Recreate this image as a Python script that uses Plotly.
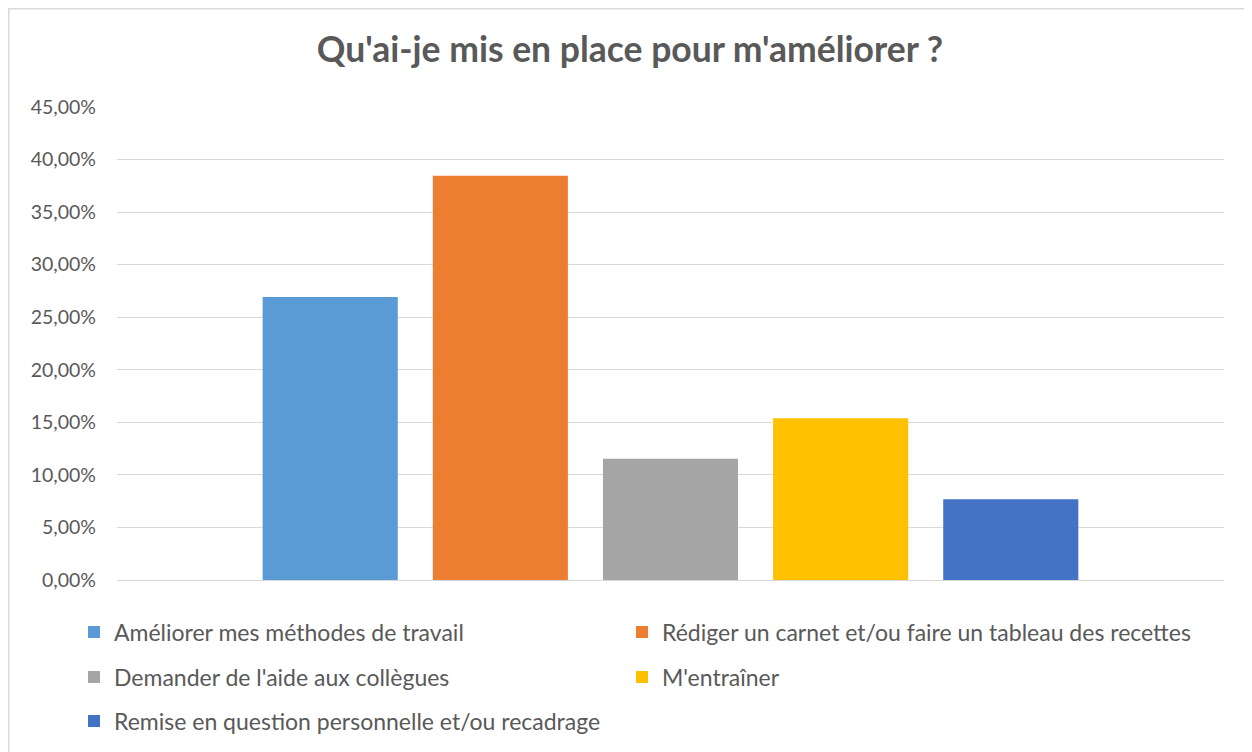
import plotly.graph_objects as go

title = "Qu'ai-je mis en place pour m'améliorer ?"
category = ["Total"]
series_names = [
    "Améliorer mes méthodes de travail",
    "Rédiger un carnet et/ou faire un tableau des recettes",
    "Demander de l'aide aux collègues",
    "M'entraîner",
    "Remise en question personnelle et/ou recadrage",
]
series_values = [0.2692, 0.3846, 0.1154, 0.1538, 0.0769]
series_colors = ["#5B9BD5", "#ED7D31", "#A5A5A5", "#FFC000", "#4472C4"]

FONT = "Lato"
TXT = "#595959"
OFF = 8  # page body margin

legend_ids = ["legend", "legend2", "legend3", "legend4", "legend5"]

fig = go.Figure()
for name, val, col, lg in zip(series_names, series_values, series_colors, legend_ids):
    fig.add_trace(go.Bar(x=category, y=[val], name=name, marker_color=col,
                         marker_line_width=0, legend=lg, showlegend=True,
                         hoverinfo="skip"))

W, H = 1252 - OFF, 752 - OFF
# target screen coordinates of plot area
SL, SR, ST, SB = 117, 1224, 107, 580
L, T = SL - OFF, ST - OFF
R, B = W - (SR - OFF), H - (SB - OFF)
pw, ph = W - L - R, H - T - B

def px_x(x):
    return (x - OFF - L) / pw

def px_y(y):
    return (H - B - (y - OFF)) / ph

leg_common = dict(orientation="h", xanchor="left", yanchor="middle",
                  font=dict(family=FONT, size=23, color=TXT),
                  bgcolor="rgba(0,0,0,0)", itemclick=False, itemdoubleclick=False)

# legend layout: (screen x of marker-left minus 14, screen y of row center)
leg_pos = [(74, 632), (622, 632), (74, 677), (622, 677), (74, 721)]
legend_layout = {lid: dict(x=px_x(x), y=px_y(y), **leg_common)
                 for lid, (x, y) in zip(legend_ids, leg_pos)}

fig.update_layout(
    width=W, height=H,
    showlegend=True,
    margin=dict(l=L, r=R, t=T, b=B, autoexpand=False),
    paper_bgcolor="white", plot_bgcolor="white",
    separators=", ",
    barmode="group", bargap=0.2315, bargroupgap=0.206,
    title=dict(text="<b>" + title + "</b>", x=0.5, xanchor="center",
               y=1 - (50 - OFF) / H, yanchor="middle",
               font=dict(family=FONT, size=35.5, color=TXT)),
    xaxis=dict(showticklabels=False, showgrid=False, zeroline=False,
               showline=False, ticks=""),
    yaxis=dict(range=[0, 0.45], dtick=0.05, tickformat=".2%",
               showgrid=True, gridcolor="#D9D9D9", gridwidth=1.3,
               zeroline=True, zerolinecolor="#D9D9D9", zerolinewidth=1.3,
               showline=False, ticks="", ticklabelstandoff=20,
               tickfont=dict(family=FONT, size=19.5, color=TXT)),
    shapes=[dict(type="rect", xref="paper", yref="paper",
                 x0=px_x(OFF + 0.8), x1=px_x(1270), y0=px_y(770), y1=px_y(OFF + 0.8),
                 line=dict(color="#D9D9D9", width=1.5), fillcolor="rgba(0,0,0,0)",
                 layer="below")],
    **legend_layout,
)

fig.write_html("out.html")
